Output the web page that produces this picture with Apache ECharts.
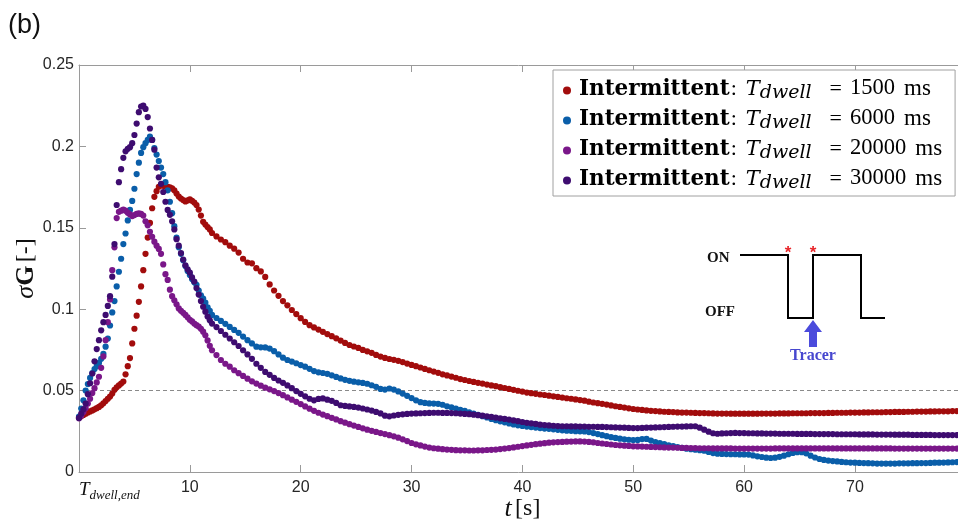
<!DOCTYPE html>
<html>
<head>
<meta charset="utf-8">
<script src="https://cdn.jsdelivr.net/npm/echarts@6/dist/echarts.min.js"></script>
<style>
html,body{margin:0;padding:0;background:#fff}
#chart{width:958px;height:523px}
</style>
</head>
<body>
<div id="chart"></div>
<script>
// sampling times [s] after the end of the dwell (0.2 s early, 0.4 s later)
const time = [
0,0.2,0.4,0.6,0.8,1,1.2,1.4,1.6,1.8,
2,2.2,2.4,2.6,2.8,3,3.2,3.4,3.6,3.8,
4,4.2,4.4,4.6,4.8,5,5.2,5.4,5.6,5.8,
6,6.2,6.4,6.6,6.8,7,7.2,7.4,7.6,7.8,
8,8.2,8.4,8.6,8.8,9,9.2,9.4,9.6,9.8,
10,10.2,10.4,10.6,10.8,11,11.2,11.4,11.6,11.8,
12,
12.4,12.8,13.2,13.6,14,14.4,14.8,15.2,15.6,16,
16.4,16.8,17.2,17.6,18,18.4,18.8,19.2,19.6,20,
20.4,20.8,21.2,21.6,22,22.4,22.8,23.2,23.6,24,
24.4,24.8,25.2,25.6,26,26.4,26.8,27.2,27.6,28,
28.4,28.8,29.2,29.6,30,30.4,30.8,31.2,31.6,32,
32.4,32.8,33.2,33.6,34,34.4,34.8,35.2,35.6,36,
36.4,36.8,37.2,37.6,38,38.4,38.8,39.2,39.6,40,
40.4,40.8,41.2,41.6,42,42.4,42.8,43.2,43.6,44,
44.4,44.8,45.2,45.6,46,46.4,46.8,47.2,47.6,48,
48.4,48.8,49.2,49.6,50,50.4,50.8,51.2,51.6,52,
52.4,52.8,53.2,53.6,54,54.4,54.8,55.2,55.6,56,
56.4,56.8,57.2,57.6,58,58.4,58.8,59.2,59.6,60,
60.4,60.8,61.2,61.6,62,62.4,62.8,63.2,63.6,64,
64.4,64.8,65.2,65.6,66,66.4,66.8,67.2,67.6,68,
68.4,68.8,69.2,69.6,70,70.4,70.8,71.2,71.6,72,
72.4,72.8,73.2,73.6,74,74.4,74.8,75.2,75.6,76,
76.4,76.8,77.2,77.6,78,78.4,78.8,79.2
];

// dwell times of the four intermittent runs [ms]
const dwellMs = [1500, 6000, 20000, 30000];

// sigma G for T_dwell = 1500 ms
const sigma1500 = [
0.0335,0.0342,0.0350,0.0358,0.0366,0.0372,0.0378,0.0385,0.0392,0.0400,
0.0410,0.0422,0.0436,0.0450,0.0463,0.0482,0.0505,0.0520,0.0532,0.0543,
0.0556,0.0600,0.0650,0.0700,0.0790,0.0880,0.0960,0.1045,0.1140,0.1240,
0.1340,0.1440,0.1530,0.1620,0.1690,0.1725,0.1752,0.1762,0.1758,0.1755,
0.1752,0.1748,0.1742,0.1730,0.1710,0.1692,0.1680,0.1670,0.1662,0.1668,
0.1674,0.1666,0.1655,0.1640,0.1612,0.1575,0.1537,0.1520,0.1505,0.1490,
0.1468,
0.1447,0.1428,0.1412,0.1390,0.1372,0.1348,0.1310,0.1287,0.1282,0.1252,
0.1232,0.1198,0.1152,0.1115,0.1082,0.1050,0.1024,0.0995,0.0970,0.0945,
0.0922,0.0902,0.0888,0.0875,0.0861,0.0847,0.0834,0.0821,0.0807,0.0793,
0.0780,0.0771,0.0762,0.0750,0.0741,0.0732,0.0719,0.0709,0.0701,0.0694,
0.0689,0.0683,0.0675,0.0666,0.0658,0.0650,0.0642,0.0633,0.0625,0.0617,
0.0609,0.0600,0.0593,0.0586,0.0579,0.0571,0.0565,0.0559,0.0553,0.0548,
0.0543,0.0537,0.0532,0.0527,0.0521,0.0516,0.0510,0.0505,0.0499,0.0494,
0.0488,0.0484,0.0480,0.0476,0.0473,0.0469,0.0465,0.0461,0.0457,0.0453,
0.0450,0.0446,0.0442,0.0438,0.0432,0.0427,0.0423,0.0419,0.0414,0.0409,
0.0404,0.0400,0.0396,0.0391,0.0387,0.0384,0.0381,0.0378,0.0376,0.0374,
0.0372,0.0370,0.0369,0.0368,0.0366,0.0365,0.0365,0.0364,0.0363,0.0362,
0.0362,0.0361,0.0360,0.0359,0.0359,0.0359,0.0358,0.0358,0.0358,0.0358,
0.0358,0.0358,0.0358,0.0359,0.0359,0.0359,0.0359,0.0360,0.0360,0.0360,
0.0361,0.0361,0.0361,0.0361,0.0362,0.0362,0.0362,0.0362,0.0363,0.0363,
0.0364,0.0364,0.0364,0.0365,0.0365,0.0365,0.0366,0.0366,0.0367,0.0367,
0.0367,0.0368,0.0368,0.0369,0.0369,0.0369,0.0370,0.0370,0.0371,0.0371,
0.0371,0.0372,0.0372,0.0373,0.0373,0.0373,0.0374,0.0374
];

// sigma G for T_dwell = 6000 ms
const sigma6000 = [
0.0340,0.0390,0.0440,0.0500,0.0540,0.0578,0.0608,0.0632,0.0650,0.0670,
0.0695,0.0725,0.0770,0.0820,0.0900,0.0980,0.1050,0.1140,0.1230,0.1310,
0.1400,0.1465,0.1545,0.1610,0.1665,0.1740,0.1830,0.1900,0.1960,0.1995,
0.2020,0.2040,0.2060,0.2040,0.1990,0.1950,0.1910,0.1870,0.1830,0.1780,
0.1730,0.1660,0.1590,0.1510,0.1440,0.1380,0.1340,0.1300,0.1265,0.1235,
0.1210,0.1185,0.1165,0.1150,0.1115,0.1085,0.1065,0.1040,0.1012,0.0990,
0.0965,
0.0946,0.0928,0.0910,0.0891,0.0873,0.0855,0.0832,0.0810,0.0790,0.0770,
0.0766,0.0765,0.0758,0.0742,0.0722,0.0702,0.0688,0.0678,0.0668,0.0657,
0.0647,0.0634,0.0620,0.0612,0.0608,0.0603,0.0594,0.0584,0.0575,0.0566,
0.0560,0.0555,0.0551,0.0547,0.0542,0.0533,0.0523,0.0510,0.0506,0.0513,
0.0506,0.0495,0.0482,0.0468,0.0454,0.0440,0.0429,0.0424,0.0421,0.0420,
0.0419,0.0413,0.0404,0.0397,0.0390,0.0382,0.0375,0.0367,0.0359,0.0351,
0.0343,0.0335,0.0326,0.0318,0.0311,0.0305,0.0298,0.0292,0.0287,0.0283,
0.0279,0.0276,0.0273,0.0270,0.0267,0.0265,0.0262,0.0259,0.0256,0.0254,
0.0253,0.0251,0.0250,0.0249,0.0245,0.0239,0.0233,0.0226,0.0220,0.0214,
0.0209,0.0205,0.0201,0.0198,0.0196,0.0197,0.0202,0.0203,0.0193,0.0184,
0.0177,0.0171,0.0164,0.0159,0.0153,0.0148,0.0143,0.0140,0.0137,0.0134,
0.0131,0.0123,0.0116,0.0112,0.0111,0.0110,0.0109,0.0109,0.0108,0.0108,
0.0107,0.0102,0.0096,0.0092,0.0088,0.0086,0.0088,0.0093,0.0100,0.0109,
0.0117,0.0122,0.0122,0.0115,0.0100,0.0089,0.0080,0.0074,0.0070,0.0067,
0.0065,0.0062,0.0060,0.0058,0.0057,0.0056,0.0055,0.0054,0.0053,0.0052,
0.0052,0.0052,0.0052,0.0052,0.0053,0.0053,0.0053,0.0054,0.0054,0.0055,
0.0055,0.0056,0.0057,0.0057,0.0058,0.0059,0.0060,0.0061
];

// sigma G for T_dwell = 20000 ms
const sigma20000 = [
0.0330,0.0345,0.0368,0.0392,0.0420,0.0450,0.0485,0.0515,0.0550,0.0585,
0.0640,0.0710,0.0810,0.0920,0.1060,0.1240,0.1380,0.1560,0.1598,0.1605,
0.1612,0.1605,0.1592,0.1582,0.1572,0.1578,0.1585,0.1588,0.1585,0.1575,
0.1540,0.1515,0.1475,0.1445,0.1415,0.1390,0.1370,0.1340,0.1275,0.1215,
0.1180,0.1120,0.1080,0.1055,0.1030,0.1005,0.0990,0.0978,0.0965,0.0950,
0.0935,0.0925,0.0912,0.0902,0.0893,0.0880,0.0862,0.0840,0.0808,0.0775,
0.0748,
0.0718,0.0688,0.0665,0.0647,0.0625,0.0607,0.0590,0.0573,0.0557,0.0543,
0.0530,0.0518,0.0508,0.0497,0.0485,0.0472,0.0458,0.0444,0.0431,0.0417,
0.0403,0.0389,0.0376,0.0364,0.0353,0.0343,0.0333,0.0323,0.0312,0.0303,
0.0294,0.0285,0.0277,0.0268,0.0260,0.0253,0.0246,0.0239,0.0233,0.0226,
0.0219,0.0211,0.0201,0.0190,0.0178,0.0170,0.0163,0.0156,0.0150,0.0146,
0.0143,0.0140,0.0138,0.0136,0.0134,0.0133,0.0133,0.0132,0.0132,0.0133,
0.0133,0.0135,0.0136,0.0138,0.0141,0.0144,0.0147,0.0151,0.0155,0.0159,
0.0163,0.0167,0.0171,0.0174,0.0177,0.0180,0.0182,0.0184,0.0185,0.0186,
0.0187,0.0188,0.0188,0.0187,0.0185,0.0182,0.0178,0.0175,0.0172,0.0169,
0.0166,0.0164,0.0162,0.0160,0.0158,0.0157,0.0156,0.0155,0.0154,0.0153,
0.0152,0.0151,0.0150,0.0150,0.0149,0.0148,0.0148,0.0147,0.0147,0.0146,
0.0146,0.0146,0.0145,0.0145,0.0145,0.0145,0.0145,0.0144,0.0144,0.0144,
0.0144,0.0144,0.0144,0.0144,0.0144,0.0144,0.0145,0.0145,0.0145,0.0145,
0.0145,0.0145,0.0145,0.0145,0.0145,0.0145,0.0145,0.0145,0.0145,0.0145,
0.0145,0.0145,0.0145,0.0145,0.0145,0.0145,0.0145,0.0145,0.0145,0.0145,
0.0145,0.0145,0.0145,0.0144,0.0144,0.0144,0.0144,0.0144,0.0144,0.0144,
0.0144,0.0144,0.0144,0.0144,0.0144,0.0144,0.0144,0.0144
];

// sigma G for T_dwell = 30000 ms
const sigma30000 = [
0.0332,0.0358,0.0385,0.0420,0.0478,0.0545,0.0605,0.0680,0.0755,0.0810,
0.0870,0.0920,0.0965,0.1020,0.1080,0.1200,0.1400,0.1640,0.1780,0.1860,
0.1930,0.1970,0.1985,0.1995,0.2020,0.2070,0.2140,0.2210,0.2245,0.2250,
0.2230,0.2180,0.2110,0.2040,0.1980,0.1870,0.1810,0.1770,0.1720,0.1660,
0.1610,0.1580,0.1540,0.1490,0.1430,0.1390,0.1345,0.1305,0.1270,0.1245,
0.1225,0.1195,0.1170,0.1130,0.1090,0.1050,0.1015,0.0985,0.0955,0.0932,
0.0912,
0.0890,0.0866,0.0843,0.0820,0.0797,0.0774,0.0748,0.0722,0.0695,0.0665,
0.0640,0.0615,0.0597,0.0578,0.0562,0.0548,0.0532,0.0515,0.0497,0.0480,
0.0465,0.0450,0.0440,0.0449,0.0452,0.0444,0.0437,0.0424,0.0410,0.0406,
0.0403,0.0400,0.0396,0.0390,0.0384,0.0377,0.0369,0.0360,0.0346,0.0342,
0.0347,0.0351,0.0354,0.0357,0.0359,0.0360,0.0361,0.0362,0.0363,0.0364,
0.0364,0.0363,0.0363,0.0362,0.0361,0.0359,0.0357,0.0355,0.0352,0.0349,
0.0346,0.0342,0.0338,0.0334,0.0330,0.0326,0.0322,0.0317,0.0312,0.0307,
0.0302,0.0299,0.0295,0.0291,0.0288,0.0286,0.0284,0.0282,0.0281,0.0281,
0.0280,0.0280,0.0279,0.0279,0.0278,0.0278,0.0277,0.0277,0.0276,0.0275,
0.0274,0.0273,0.0272,0.0271,0.0270,0.0270,0.0271,0.0272,0.0273,0.0274,
0.0275,0.0276,0.0277,0.0278,0.0279,0.0279,0.0280,0.0281,0.0281,0.0272,
0.0260,0.0248,0.0238,0.0235,0.0237,0.0238,0.0239,0.0240,0.0239,0.0239,
0.0238,0.0238,0.0237,0.0237,0.0236,0.0236,0.0236,0.0235,0.0235,0.0235,
0.0235,0.0234,0.0234,0.0234,0.0234,0.0233,0.0233,0.0233,0.0233,0.0233,
0.0232,0.0232,0.0232,0.0232,0.0232,0.0231,0.0231,0.0231,0.0231,0.0230,
0.0230,0.0230,0.0230,0.0229,0.0229,0.0229,0.0229,0.0228,0.0228,0.0228,
0.0228,0.0228,0.0227,0.0227,0.0227,0.0227,0.0227,0.0227
];

// y-axis ticks and x-axis range
const yTicks = [0, 0.05, 0.1, 0.15, 0.2, 0.25];
const xRange = [0, 79.3];
const threshold = 0.05;

const colors = ['#a20c0c', '#0a5ea9', '#7a1789', '#3e0c70'];
const values = [sigma1500, sigma6000, sigma20000, sigma30000];
const names = dwellMs.map(ms => 'Intermittent: Tdwell = ' + ms + ' ms');

const SERIF = '"Liberation Serif", "DejaVu Serif", serif';
const DSERIF = '"DejaVu Serif", serif';
const SANS = '"Liberation Sans", Arial, sans-serif';
const axisGrey = '#9a9a9a';

const series = values.map((vals, k) => ({
  name: names[k],
  type: 'scatter',
  symbol: 'circle',
  symbolSize: 6.2,
  itemStyle: { color: colors[k], opacity: 1 },
  data: time.map((t, i) => [t, vals[i]]),
  z: 3 + k
}));
series[0].markLine = {
  silent: true,
  symbol: 'none',
  label: { show: false },
  lineStyle: { color: '#8a8a8a', type: [4, 3], width: 1 },
  data: [{ yAxis: threshold }],
  z: 1
};

const chart = echarts.init(document.getElementById('chart'));
chart.setOption({
  animation: false,
  grid: { left: 79, right: 0, top: 65, bottom: 51, containLabel: false, outerBoundsMode: 'none' },
  xAxis: [{
    type: 'value', min: xRange[0], max: xRange[1], interval: 10,
    axisLine: { lineStyle: { color: axisGrey } },
    axisTick: { inside: true, length: 7, lineStyle: { color: axisGrey } },
    splitLine: { show: false },
    axisLabel: {
      margin: 8, color: '#262626', fontFamily: SANS, fontSize: 16,
      showMaxLabel: false, alignMinLabel: 'left',
      formatter: v => v === 0 ? '{t|T}{s|dwell,end}' : String(v),
      rich: {
        t: { fontFamily: SERIF, fontStyle: 'italic', fontSize: 19, color: '#111', verticalAlign: 'bottom', padding: [0, 0, 3, 0] },
        s: { fontFamily: SERIF, fontStyle: 'italic', fontSize: 13, color: '#111', verticalAlign: 'bottom' }
      }
    },
    name: '{t|t} {u|[s]}',
    nameLocation: 'middle',
    nameGap: 24,
    nameMoveOverlap: false,
    nameTextStyle: {
      padding: [0, 0, 0, 8],
      rich: {
        t: { fontFamily: SERIF, fontStyle: 'italic', fontSize: 26, color: '#111' },
        u: { fontFamily: SERIF, fontSize: 24, color: '#111' }
      }
    }
  }, {
    type: 'value', position: 'top', min: xRange[0], max: xRange[1], interval: 10,
    axisLine: { lineStyle: { color: axisGrey } },
    axisTick: { inside: true, length: 7, lineStyle: { color: axisGrey } },
    axisLabel: { show: false },
    splitLine: { show: false }
  }],
  yAxis: {
    type: 'value', min: yTicks[0], max: yTicks[yTicks.length - 1], interval: 0.05,
    axisLine: { show: true, lineStyle: { color: axisGrey } },
    axisTick: { show: true, inside: true, length: 7, lineStyle: { color: axisGrey } },
    splitLine: { show: false },
    axisLabel: { margin: 5, color: '#262626', fontFamily: SANS, fontSize: 16 },
    name: '{a|σ}{b|G} {c|[-]}',
    nameLocation: 'middle',
    nameRotate: 90,
    nameGap: 40,
    nameMoveOverlap: false,
    nameTextStyle: {
      rich: {
        a: { fontFamily: SERIF, fontStyle: 'italic', fontSize: 26, color: '#111' },
        b: { fontFamily: SERIF, fontWeight: 'bold', fontSize: 26, color: '#111' },
        c: { fontFamily: SERIF, fontSize: 24, color: '#111' }
      }
    }
  },
  legend: {
    left: 553, top: 70, orient: 'vertical',
    icon: 'circle', itemWidth: 8, itemHeight: 8, itemGap: 4,
    padding: [7, 13, 3, 10],
    borderColor: '#a0a0a0', borderWidth: 1, borderRadius: 0,
    backgroundColor: '#fff',
    data: names,
    formatter: name => {
      const ms = dwellMs[names.indexOf(name)];
      return '{b|Intermittent}{r|:}{i|T}{s|dwell}{eq|=}{n|' + ms + '}{u|ms}';
    },
    textStyle: {
      rich: {
        b: { fontFamily: DSERIF, fontWeight: 'bold', fontSize: 21.5, color: '#000', verticalAlign: 'bottom', padding: [0, 0, 4, 3] },
        r: { fontFamily: SERIF, fontSize: 22, color: '#000', verticalAlign: 'bottom', padding: [0, 9, 4, 1] },
        i: { fontFamily: DSERIF, fontStyle: 'italic', fontSize: 21, color: '#000', verticalAlign: 'bottom', padding: [0, 0, 4, 0] },
        s: { fontFamily: DSERIF, fontStyle: 'italic', fontSize: 19, color: '#000', verticalAlign: 'bottom', padding: [0, 0, 1, 0] },
        eq: { fontFamily: SERIF, fontSize: 22, color: '#000', verticalAlign: 'bottom', padding: [0, 8, 4, 18] },
        n: { fontFamily: SERIF, fontSize: 22.5, color: '#000', verticalAlign: 'bottom', padding: [0, 0, 4, 0] },
        u: { fontFamily: SERIF, fontSize: 23, color: '#000', verticalAlign: 'bottom', padding: [0, 0, 4, 9] }
      }
    }
  },
  graphic: [
    { type: 'text', x: 8, y: 12, style: { text: '(b)', font: '27px ' + SANS, fill: '#111' } },
    // ON/OFF valve schedule sketch
    { type: 'polyline', shape: { points: [[740, 255], [788, 255], [788, 318], [813, 318], [813, 255], [861, 255], [861, 318], [885, 318]] },
      style: { stroke: '#000', lineWidth: 2, fill: null } },
    { type: 'text', x: 707, y: 258, style: { text: 'ON', font: 'bold 15px ' + SERIF, fill: '#111', verticalAlign: 'middle' } },
    { type: 'text', x: 705, y: 312, style: { text: 'OFF', font: 'bold 15px ' + SERIF, fill: '#111', verticalAlign: 'middle' } },
    { type: 'text', x: 788, y: 253, style: { text: '*', font: 'bold 17px ' + SANS, fill: '#e8262a', align: 'center', verticalAlign: 'middle' } },
    { type: 'text', x: 813, y: 253, style: { text: '*', font: 'bold 17px ' + SANS, fill: '#e8262a', align: 'center', verticalAlign: 'middle' } },
    { type: 'polygon', shape: { points: [[813, 320], [822, 332], [817, 332], [817, 347], [809, 347], [809, 332], [804, 332]] },
      style: { fill: '#4b4bdc' } },
    { type: 'text', x: 813, y: 356, style: { text: 'Tracer', font: 'bold 16px ' + SERIF, fill: '#4747cf', align: 'center', verticalAlign: 'middle' } }
  ],
  series: series
});
</script>
</body>
</html>
